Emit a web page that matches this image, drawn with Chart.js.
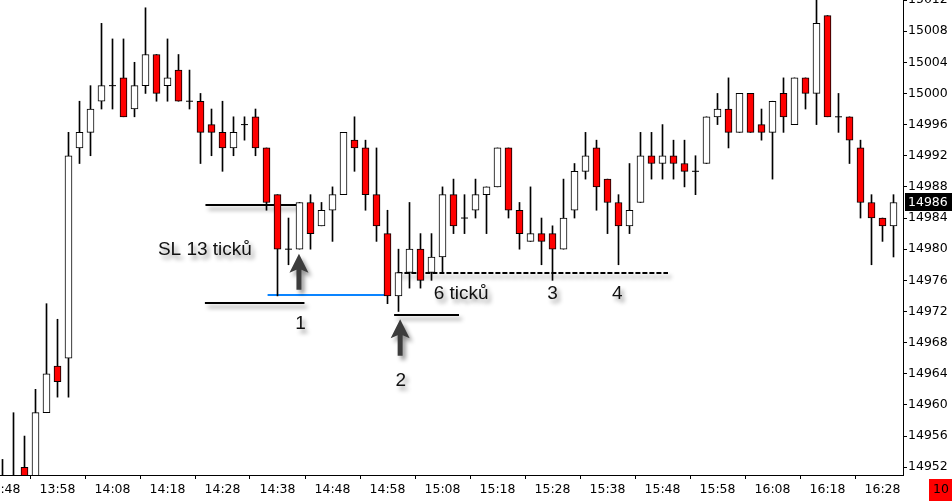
<!DOCTYPE html>
<html><head><meta charset="utf-8">
<script src="https://cdn.jsdelivr.net/npm/chart.js@4/dist/chart.umd.min.js"></script>
<style>html,body{margin:0;padding:0;background:#fff;overflow:hidden}canvas{display:block}</style>
</head><body>
<canvas id="c" width="952" height="501"></canvas>
<script>
// Tick labels (every 5th 2-minute candle)
const tickLabels = ['13:48','13:58','14:08','14:18','14:28','14:38','14:48','14:58','15:08','15:18','15:28','15:38','15:48','15:58','16:08','16:18','16:28'];
const priceTicks = [15012,15008,15004,15000,14996,14992,14988,14984,14980,14976,14972,14968,14964,14960,14956,14952];

const openVals  = [14948,14947,14952,14949,14959,14965,14966,14993,14995,14999,15001,15002,14998,15001,15005,15001,15003,14999,14999,14996,14995,14993,14996,14997,14993,14987,14980,14980,14986,14983,14985,14987,14994,14993,14987,14982,14974,14977,14980,14977,14979,14987,14984,14985,14987,14988,14993,14985,14981,14982,14982,14980,14985,14990,14993,14989,14986,14983,14986,14992,14991,14992,14991,14990,14991,14997,14998,14995,15000,14996,14995,15000,14996,15002,15000,15010,14997,14997,14993,14986,14984,14983];
const highVals  = [14953,14959,14956,14962,14973,14971,14995,14999,15001,15009,15007,15007,15004,15011,15005,15007,15005,15003,15000,14998,14999,14997,14997,14998,14993,14987,14984,14986,14987,14986,14988,14995,14997,14994,14993,14985,14980,14986,14982,14982,14988,14989,14987,14989,14988,14993,14993,14986,14988,14984,14983,14989,14991,14995,14994,14989,14987,14991,14995,14995,14996,14994,14994,14992,14997,15000,15002,15000,15000,14998,14999,15002,15002,15002,15013,15010,15000,14997,14994,14987,14984,14987];
const lowVals   = [14946,14945,14948,14948,14959,14961,14961,14991,14992,14998,14998,14997,14997,15000,14999,14999,14999,14998,14991,14992,14990,14992,14994,14992,14985,14974,14978,14980,14980,14983,14981,14987,14990,14985,14981,14973,14972,14975,14975,14976,14977,14982,14982,14984,14982,14988,14984,14980,14981,14978,14976,14980,14984,14989,14985,14982,14978,14982,14986,14989,14989,14989,14988,14987,14991,14996,14993,14995,14995,14994,14989,14995,14996,14998,14996,14997,14995,14991,14984,14978,14981,14979];
const closeVals = [14950,14950,14949,14959,14964,14963,14992,14995,14998,15001,15001,14997,15001,15005,15000,15002,14999,14999,14995,14995,14993,14995,14996,14993,14986,14980,14980,14986,14982,14985,14987,14995,14993,14987,14983,14974,14977,14980,14976,14979,14987,14983,14984,14987,14988,14993,14985,14982,14982,14981,14980,14984,14990,14992,14988,14986,14983,14985,14992,14991,14992,14991,14990,14990,14997,14998,14995,15000,14995,14995,14999,14997,15002,15000,15009,14997,14997,14994,14986,14984,14983,14986];

// Annotation anchors (candle index, price)
const slTopLine   = {from:18.45, to:26.8, price:14985.7};
const slBotLine   = {from:18.4, to:27.45, price:14973.1};
const blueLine    = {from:24.1, to:35.3, price:14974.1};
const entry2Line  = {from:35.6, to:41.5, price:14971.6};
const dashedLine  = {from:35.9, to:60.5, price:14976.9};
const labels = [
  {text:'SL 13 ticků', k:18.4, price:14979.9},
  {text:'1', k:27.1, price:14970.4},
  {text:'2', k:36.2, price:14963.1},
  {text:'6 ticků', k:41.7, price:14974.3},
  {text:'3', k:50.0, price:14974.3},
  {text:'4', k:55.9, price:14974.3}
];
const arrows = [
  {k:26.95, tip:14979.4, base:14974.8},
  {k:36.15, tip:14971.0, base:14966.3}
];

const idx = openVals.map((_, i) => i);
const wickData = idx.map(i => ({x:i, y:[lowVals[i], highVals[i]]}));
const bodyIdx = idx.filter(i => openVals[i] !== closeVals[i]);
const bodyData = bodyIdx.map(i => ({x:i, y:[openVals[i], closeVals[i]]}));
const bodyColors = bodyIdx.map(i => closeVals[i] < openVals[i] ? '#ff0000' : '#ffffff');
const dojiData = idx.filter(i => openVals[i] === closeVals[i]).map(i => ({x:i, y:closeVals[i]}));

const FONT = 'DejaVu Sans';

function shadowOn(ctx){ctx.shadowColor='rgba(0,0,0,0.42)';ctx.shadowOffsetX=3;ctx.shadowOffsetY=4;ctx.shadowBlur=4;}
function shadowOff(ctx){ctx.shadowColor='transparent';ctx.shadowOffsetX=0;ctx.shadowOffsetY=0;ctx.shadowBlur=0;}

const linesPlugin = {
  id:'lines',
  beforeDatasetsDraw(chart){
    const {ctx, scales:{x,y}} = chart;
    ctx.save();
    shadowOn(ctx);
    const hl = (l, color, w, dash) => {
      ctx.beginPath(); ctx.setLineDash(dash||[]); ctx.strokeStyle=color; ctx.lineWidth=w;
      const py = Math.round(y.getPixelForValue(l.price));
      ctx.moveTo(x.getPixelForValue(l.from), py); ctx.lineTo(x.getPixelForValue(l.to), py); ctx.stroke();
    };
    hl(slTopLine,'#000',2);
    hl(slBotLine,'#000',2);
    hl(entry2Line,'#000',2);
    hl(dashedLine,'#000',2,[5,2]);
    shadowOff(ctx);
    hl(blueLine,'#0a84ff',2);
    ctx.restore();
  },
  afterDatasetsDraw(chart){
    const {ctx, scales:{x,y}} = chart;
    ctx.save();
    shadowOn(ctx);
    ctx.fillStyle='#3c3c3c';
    arrows.forEach(a=>{
      const cx=x.getPixelForValue(a.k), ty=y.getPixelForValue(a.tip), by=y.getPixelForValue(a.base);
      ctx.beginPath();
      ctx.moveTo(cx,ty); ctx.lineTo(cx+9.5,ty+19); ctx.lineTo(cx+2.5,ty+16); ctx.lineTo(cx+2.5,by);
      ctx.lineTo(cx-2.5,by); ctx.lineTo(cx-2.5,ty+16); ctx.lineTo(cx-9.5,ty+19); ctx.closePath(); ctx.fill();
    });
    ctx.font='19px "Liberation Sans", Arial, sans-serif';
    ctx.textAlign='center'; ctx.textBaseline='middle';
    ctx.fillStyle='#111';
    labels.forEach(l=>{ ctx.fillText(l.text, x.getPixelForValue(l.k), y.getPixelForValue(l.price)); });
    shadowOff(ctx);
    ctx.restore();
  },
  afterDraw(chart){
    const {ctx, scales:{y}} = chart;
    ctx.save();
    const last = closeVals[closeVals.length-1];
    const py = y.getPixelForValue(last);
    ctx.fillStyle='#000';
    ctx.fillRect(905, Math.round(py)-9, 47, 18);
    ctx.fillStyle='#fff';
    ctx.font='12.5px "'+FONT+'"'; ctx.textBaseline='middle'; ctx.textAlign='left';
    ctx.fillText(String(last), 908, Math.round(py)+0.5);
    ctx.fillStyle='#ff0000';
    ctx.fillRect(929, 479, 23, 22);
    ctx.fillStyle='#000';
    ctx.fillText('10', 933, 490);
    ctx.restore();
  }
};

new Chart(document.getElementById('c'), {
  type:'bar',
  data:{
    datasets:[
      {type:'scatter', data:dojiData, pointStyle:'line', radius:3.5, borderColor:'#000', borderWidth:1, order:0},
      {type:'bar', data:bodyData, backgroundColor:bodyColors, borderColor:'#000', borderWidth:1, borderSkipped:false, barThickness:7, grouped:false, order:1},
      {type:'bar', data:wickData, backgroundColor:'#000', borderWidth:0, barThickness:1, grouped:false, order:2}
    ]
  },
  options:{
    responsive:false, animation:false, devicePixelRatio:1,
    layout:{padding:{top:-3,left:0,right:0,bottom:0}, autoPadding:false},
    plugins:{legend:{display:false}, tooltip:{enabled:false}},
    scales:{
      x:{
        type:'linear', min:-2.5/11, max:(903-2.5)/11, offset:false,
        grid:{drawOnChartArea:false, drawTicks:true, tickLength:4, color:'#000'},
        border:{display:true, color:'#000', width:1},
        afterBuildTicks(s){ s.ticks = tickLabels.map((_,i)=>({value:i*5})); },
        ticks:{autoSkip:false, maxRotation:0, padding:3, color:'#000', font:{family:FONT, size:12.5},
          callback:(v,i)=>tickLabels[i]},
        afterFit(s){ s.height = 26; s.paddingLeft = 0; s.paddingRight = 0; }
      },
      y:{
        type:'linear', position:'right', min:14951, max:15012,
        grid:{drawOnChartArea:false, drawTicks:true, tickLength:4, color:'#000'},
        border:{display:true, color:'#000', width:1},
        afterBuildTicks(s){ s.ticks = priceTicks.map(v=>({value:v})); },
        ticks:{autoSkip:false, padding:1, color:'#000', font:{family:FONT, size:12.5}, callback:v=>String(v)},
        afterFit(s){ s.width = 49; s.paddingTop = 0; s.paddingBottom = 0; }
      }
    }
  },
  plugins:[linesPlugin]
});
</script>
</body></html>
